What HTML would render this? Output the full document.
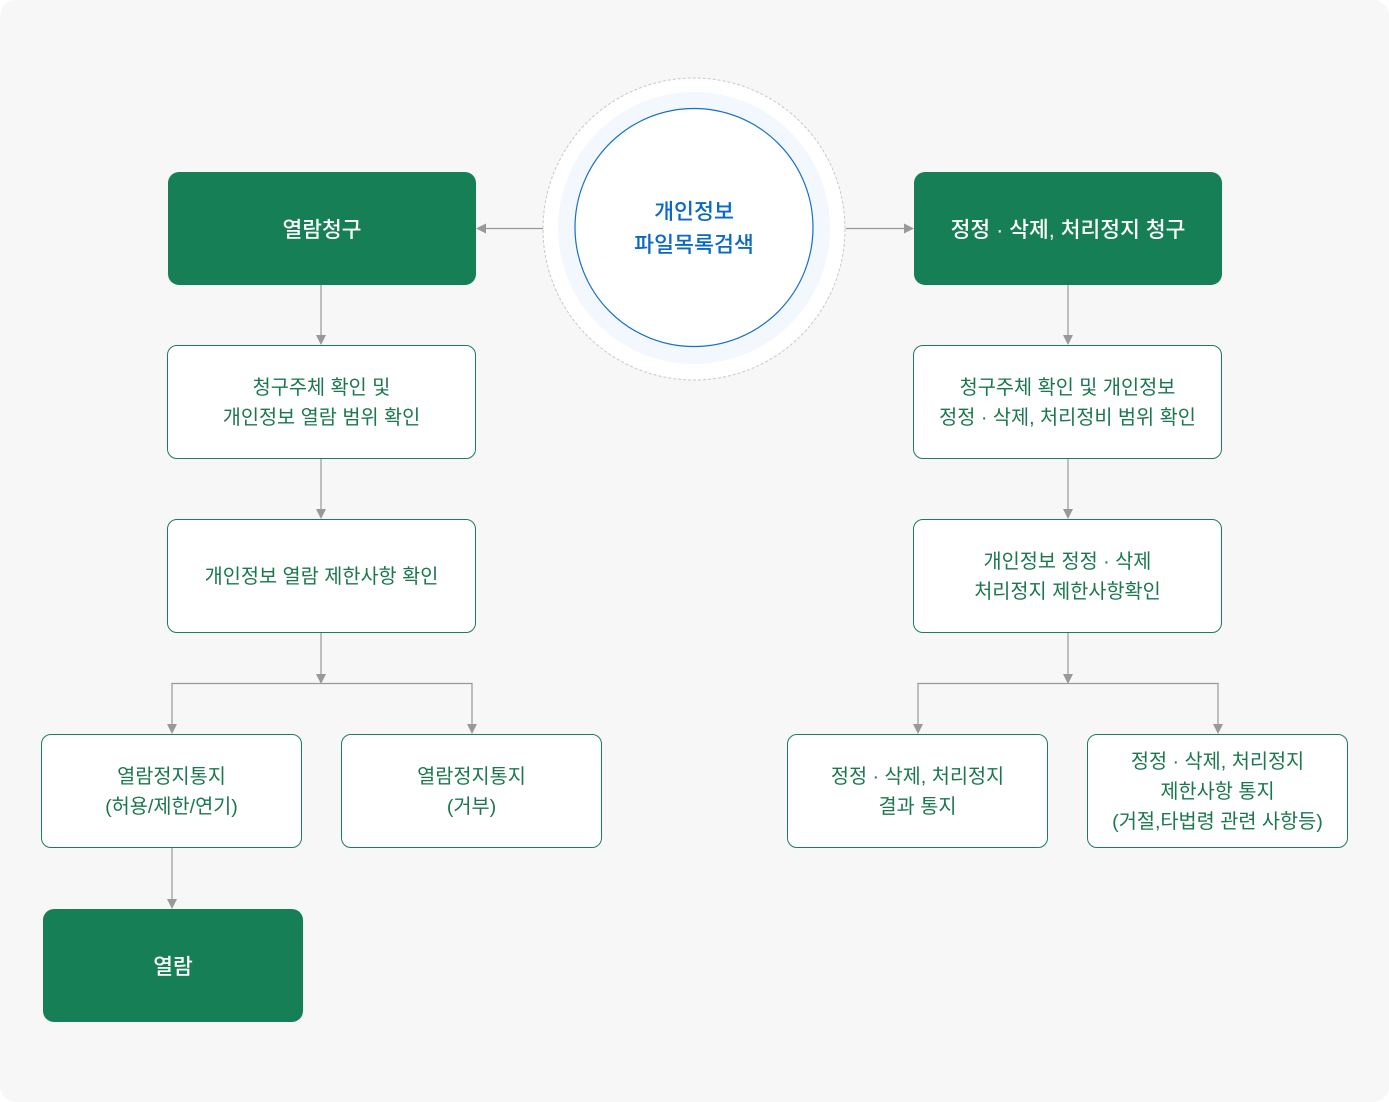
<!DOCTYPE html>
<html><head><meta charset="utf-8">
<style>
*{margin:0;padding:0;box-sizing:border-box}
html,body{width:1389px;height:1102px;background:#fff;overflow:hidden}
body{font-family:"Liberation Sans","Noto Sans CJK KR","NanumGothic",sans-serif}
#wrap{position:absolute;left:0;top:0;width:1389px;height:1102px;background:#f7f7f7;border-radius:16px}
.b{position:absolute;display:flex;align-items:center;justify-content:center;text-align:center;border-radius:10px}
.g{background:#177f55;color:#fff;font-size:21.5px;font-weight:500;border-radius:11px}
.w{background:#fff;border:1px solid #1d7d55;color:#1a774e;font-size:19.7px;line-height:30px;padding-top:1px}
svg{position:absolute;left:0;top:0}
.ct{position:absolute;left:594px;top:195px;width:200px;text-align:center;color:#0b68c4;font-size:21.7px;font-weight:500;line-height:33px}
</style></head><body>
<div id="wrap">
<svg width="1389" height="1102" viewBox="0 0 1389 1102">
  <circle cx="694" cy="229" r="151" fill="#fff" stroke="#c8c8c8" stroke-width="1" stroke-dasharray="3 2"/>
  <circle cx="694" cy="228" r="136" fill="#f3f8fe"/>
  <circle cx="694" cy="227.5" r="119" fill="#fff" stroke="#1570c8" stroke-width="1.2"/>
  <g stroke="#999" stroke-width="1.2" fill="none">
    <line x1="543" y1="228.5" x2="484" y2="228.5"/>
    <line x1="846" y1="228.5" x2="906" y2="228.5"/>
    <line x1="321" y1="285" x2="321" y2="337"/>
    <line x1="321" y1="458" x2="321" y2="511"/>
    <line x1="321" y1="632" x2="321" y2="676"/>
    <polyline points="172,726 172,683.5 472,683.5 472,726"/>
    <line x1="172" y1="847" x2="172" y2="901"/>
    <line x1="1068" y1="285" x2="1068" y2="337"/>
    <line x1="1068" y1="458" x2="1068" y2="511"/>
    <line x1="1068" y1="632" x2="1068" y2="676"/>
    <polyline points="918,726 918,683.5 1218,683.5 1218,726"/>
  </g>
  <g fill="#999">
    <polygon points="476,228.5 486,223.5 486,233.5"/>
    <polygon points="914,228.5 904,223.5 904,233.5"/>
    <polygon points="321,345 316,335 326,335"/>
    <polygon points="321,519 316,509 326,509"/>
    <polygon points="321,684 316,674 326,674"/>
    <polygon points="172,734 167,724 177,724"/>
    <polygon points="472,734 467,724 477,724"/>
    <polygon points="172,909 167,899 177,899"/>
    <polygon points="1068,345 1063,335 1073,335"/>
    <polygon points="1068,519 1063,509 1073,509"/>
    <polygon points="1068,684 1063,674 1073,674"/>
    <polygon points="918,734 913,724 923,724"/>
    <polygon points="1218,734 1213,724 1223,724"/>
  </g>
</svg>
<div class="ct">개인정보<br>파일목록검색</div>

<div class="b g" style="left:168px;top:172px;width:308px;height:113px">열람청구</div>
<div class="b w" style="left:167px;top:345px;width:309px;height:114px">청구주체 확인 및<br>개인정보 열람 범위 확인</div>
<div class="b w" style="left:167px;top:519px;width:309px;height:114px">개인정보 열람 제한사항 확인</div>
<div class="b w" style="left:41px;top:734px;width:261px;height:114px">열람정지통지<br>(허용/제한/연기)</div>
<div class="b w" style="left:341px;top:734px;width:261px;height:114px">열람정지통지<br>(거부)</div>
<div class="b g" style="left:43px;top:909px;width:260px;height:113px">열람</div>

<div class="b g" style="left:914px;top:172px;width:308px;height:113px">정정 · 삭제, 처리정지 청구</div>
<div class="b w" style="left:913px;top:345px;width:309px;height:114px">청구주체 확인 및 개인정보<br>정정 · 삭제, 처리정비 범위 확인</div>
<div class="b w" style="left:913px;top:519px;width:309px;height:114px">개인정보 정정 · 삭제<br>처리정지 제한사항확인</div>
<div class="b w" style="left:787px;top:734px;width:261px;height:114px">정정 · 삭제, 처리정지<br>결과 통지</div>
<div class="b w" style="left:1087px;top:734px;width:261px;height:114px">정정 · 삭제, 처리정지<br>제한사항 통지<br>(거절,타법령 관련 사항등)</div>
</div>
</body></html>
